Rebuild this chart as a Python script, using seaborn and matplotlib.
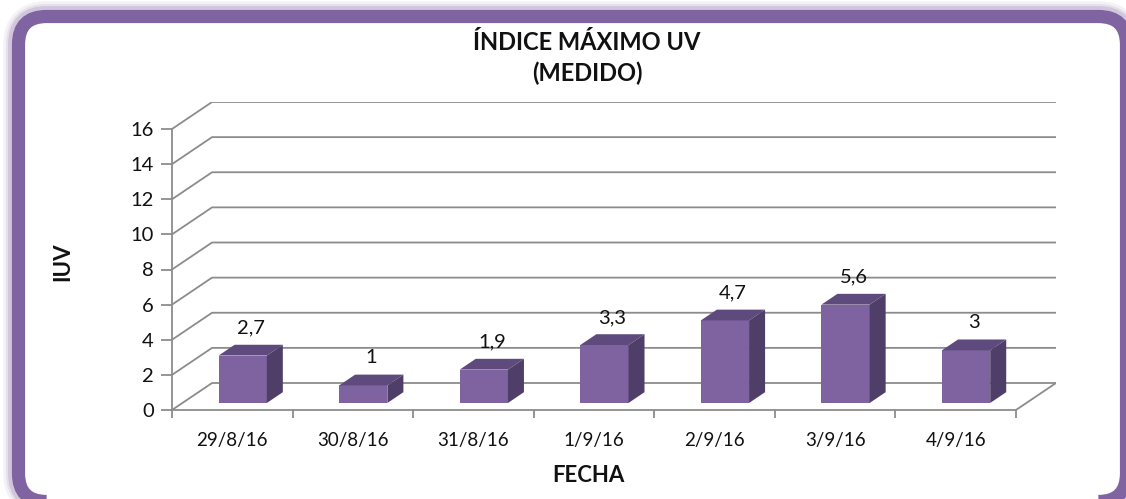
import numpy as np
import pandas as pd
import matplotlib
matplotlib.use('Agg')
import matplotlib.pyplot as plt
from matplotlib.patches import Polygon, FancyBboxPatch
from matplotlib.transforms import IdentityTransform
import seaborn as sns

# datos
fechas = ['29/8/16', '30/8/16', '31/8/16', '1/9/16', '2/9/16', '3/9/16', '4/9/16']
iuv = [2.7, 1, 1.9, 3.3, 4.7, 5.6, 3]
yticks = [0, 2, 4, 6, 8, 10, 12, 14, 16]
titulo = ['ÍNDICE MÁXIMO UV', '(MEDIDO)']

sns.set_theme(style='white')
plt.rcParams['font.family'] = ['Lato', 'DejaVu Sans']

W, H = 1126, 499
fig = plt.figure(figsize=(W / 100, H / 100), dpi=100)

# perspectiva "3D" falsa
DX = 40 / 120.43     # desplazamiento de profundidad en x (unidades de categoria)
DY = 27 / 17.5625    # desplazamiento de profundidad en y (unidades de valor)
Z0 = 0.26            # profundidad de la cara frontal de la barra
DEPTH = 0.4          # profundidad de la barra

ax = fig.add_axes([172 / W, (H - 410) / H, (1056 - 172) / W, (410 - 102) / H])

front_c = '#7F63A1'
top_c = '#5E4A7C'
side_c = '#4F3F68'
grid_c = '#8C8C8C'
txt_c = '#111111'

df = pd.DataFrame({'Fecha': fechas, 'IUV': iuv})
sns.barplot(data=df, x='Fecha', y='IUV', color=front_c, width=0.4,
            saturation=1, ax=ax, zorder=3)

n = len(fechas)
# lineas de la pared y suelo
for v in yticks:
    ax.plot([-0.5, -0.5 + DX, n - 0.5 + DX], [v, v + DY, v + DY],
            color=grid_c, lw=1.3, zorder=1, solid_capstyle='butt')
ax.plot([n - 0.5 + DX, n - 0.5], [DY, 0], color=grid_c, lw=1.3, zorder=1)

# caras superior y lateral
for p, v in zip(ax.patches, iuv):
    p.set_x(p.get_x() + Z0 * DX)
    p.set_y(Z0 * DY)
    p.set_edgecolor('none')
    x0, yb, w, h = p.get_x(), p.get_y(), p.get_width(), p.get_height()
    ddx, ddy = DEPTH * DX, DEPTH * DY
    top = Polygon([(x0, yb + h), (x0 + w, yb + h), (x0 + w + ddx, yb + h + ddy),
                   (x0 + ddx, yb + h + ddy)], closed=True, fc=top_c, ec='none', zorder=3)
    side = Polygon([(x0 + w, yb), (x0 + w + ddx, yb + ddy), (x0 + w + ddx, yb + h + ddy),
                    (x0 + w, yb + h)], closed=True, fc=side_c, ec='none', zorder=3)
    ax.add_patch(top)
    ax.add_patch(side)
    etiqueta = f'{v:g}'.replace('.', ',')
    ax.annotate(etiqueta, (x0 + w / 2 + ddx / 2, yb + h + ddy), xytext=(0, 12),
                textcoords='offset points', ha='center', va='center',
                fontsize=14.5, color=txt_c)

ax.set_xlim(-0.5, n - 0.5 + DX)
ax.set_ylim(0, 16 + DY)
ax.set_xlabel('')
ax.set_ylabel('')
ax.set_yticks(yticks)
ax.set_xticks(range(n))
ax.set_xticklabels(fechas)
ax.set_xticks(np.arange(-0.5, n, 1), minor=True)

for s in ['top', 'right']:
    ax.spines[s].set_visible(False)
ax.spines['left'].set_bounds(0, 16)
ax.spines['bottom'].set_bounds(-0.5, n - 0.5)
for s in ['left', 'bottom']:
    ax.spines[s].set_color(grid_c)
    ax.spines[s].set_linewidth(1.3)

ax.tick_params(axis='y', which='major', length=8, width=1.3, color=grid_c,
               direction='out', left=True, labelsize=14.5, pad=5, labelcolor=txt_c)
ax.tick_params(axis='x', which='major', length=0, labelsize=13.5, pad=16, labelcolor=txt_c)
ax.tick_params(axis='x', which='minor', length=6, width=1.3, color=grid_c,
               direction='out', bottom=True)
ax.patch.set_alpha(0)

# titulos
fig.text(587 / W, 1 - 42 / H, titulo[0], ha='center', va='center',
         fontsize=17, fontweight='bold', color=txt_c)
fig.text(587 / W, 1 - 73 / H, titulo[1], ha='center', va='center',
         fontsize=17, fontweight='bold', color=txt_c)
fig.text(588 / W, 1 - 475 / H, 'FECHA', ha='center', va='center',
         fontsize=16, fontweight='bold', color=txt_c)
fig.text(63 / W, 1 - 262 / H, 'IUV', ha='center', va='center', rotation=90,
         fontsize=16, fontweight='bold', color=txt_c)

# marco redondeado con sombra solo hacia fuera
frame_c = '#8064A2'
caja = dict(xy=(18.5, -2.5), width=1108, height=485)
estilo = 'round,pad=0,rounding_size=28'
for lw, a in [(22, 0.08), (18, 0.12), (15, 0.2)]:
    glow = FancyBboxPatch(**caja, boxstyle=estilo, transform=IdentityTransform(),
                          fill=False, ec=frame_c, lw=lw, alpha=a, zorder=-3)
    fig.add_artist(glow)
fondo = FancyBboxPatch(**caja, boxstyle=estilo, transform=IdentityTransform(),
                       fc='white', ec='none', zorder=-2)
fig.add_artist(fondo)
marco = FancyBboxPatch(**caja, boxstyle=estilo, transform=IdentityTransform(),
                       fill=False, ec=frame_c, lw=9.5, zorder=1)
fig.add_artist(marco)

fig.savefig('out.png', dpi=100)
